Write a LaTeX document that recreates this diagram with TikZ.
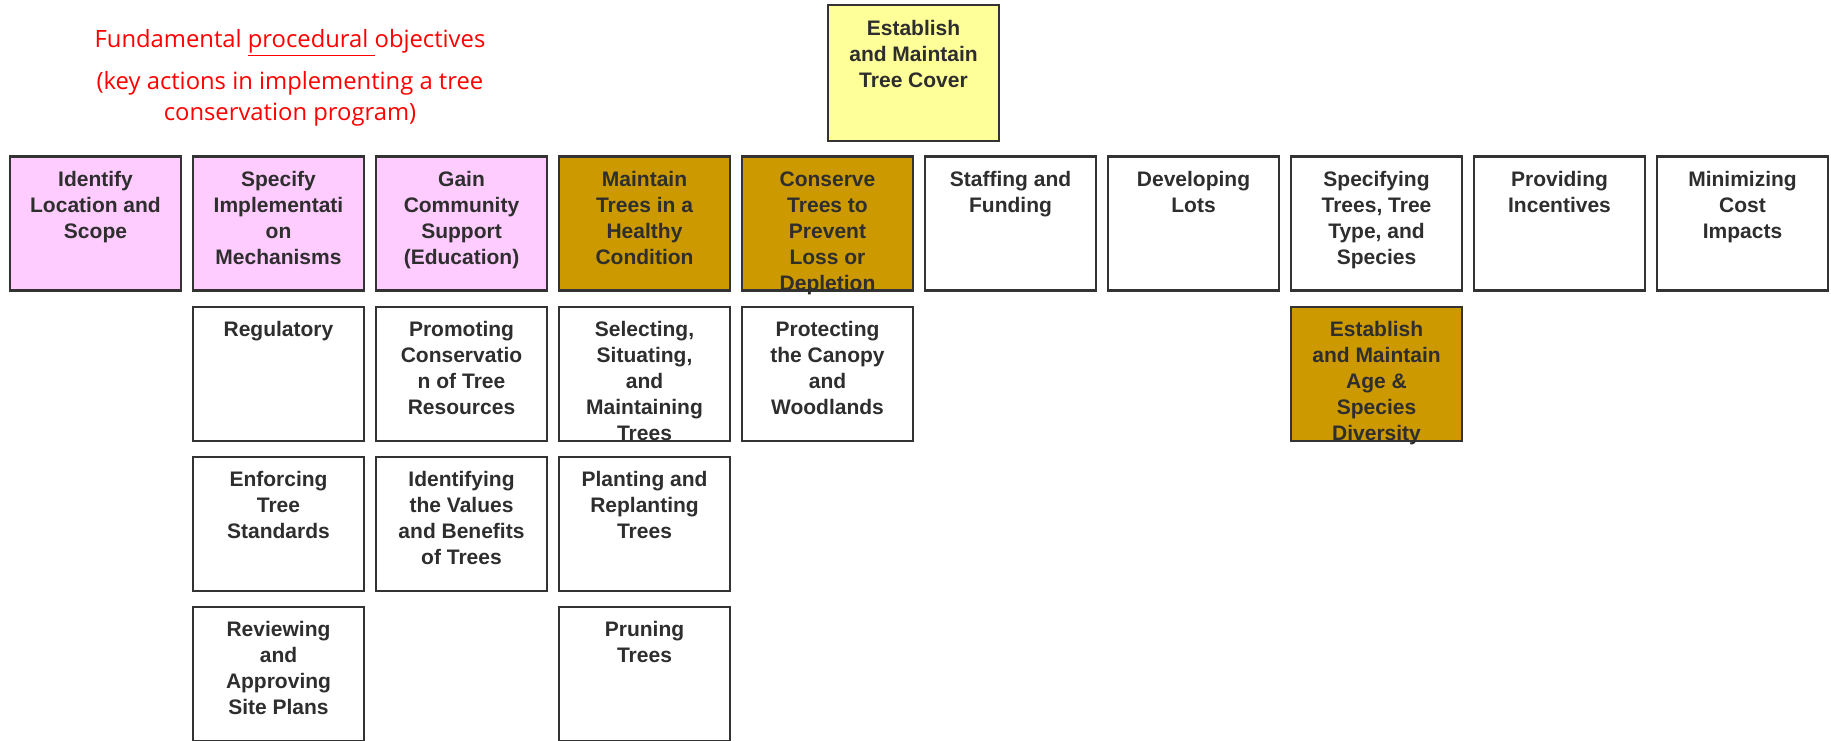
\documentclass[tikz,border=0pt]{standalone}
\usepackage{fontspec}
\setmainfont{Liberation Sans}
\newfontfamily\titlefont{Open Sans}
\definecolor{bordc}{HTML}{333333}
\definecolor{txtc}{HTML}{2E2E2E}
\definecolor{pinkc}{HTML}{FFCCFF}
\definecolor{goldc}{HTML}{CC9900}
\definecolor{yelc}{HTML}{FFFF99}
\definecolor{redc}{HTML}{FF0000}
\newcommand\bx[2][67pt]{\parbox[c][#1][t]{85.3pt}{\centering\rule{0pt}{14.9pt}#2}}
\tikzset{
  box/.style={draw=bordc, line width=1.2pt, inner sep=0pt, fill=white,
    text=txtc, font=\fontsize{10.5pt}{13pt}\selectfont\bfseries},
  pinkbox/.style={box, fill=pinkc},
  goldbox/.style={box, fill=goldc},
  yelbox/.style={box, fill=yelc},
  ttl/.style={anchor=base, inner sep=0pt, text=redc, font=\titlefont\fontsize{11.9pt}{13pt}\selectfont},
}
\begin{document}
\begin{tikzpicture}[x=0.5pt, y=-0.5pt]
\useasboundingbox (0,0) rectangle (1831,740);
% title
\node[ttl] (t1) at (290,47.3) {Fundamental $\underline{\hbox{procedural\ }}$objectives};
\node[ttl] (t2) at (290,89.3) {(key actions in implementing a tree};
\node[ttl] (t3) at (290,120) {conservation program)};
% top
\node[yelbox] (top) at (913.5,73) {\bx[67.8pt]{Establish\\and Maintain\\Tree Cover}};
% row 1
\node[pinkbox] (a0) at (95.5,223.4) {\bx{Identify\\Location and\\Scope}};
\node[pinkbox] (a1) at (278.5,223.4) {\bx{Specify\\Implementati\\on\\Mechanisms}};
\node[pinkbox] (a2) at (461.5,223.4) {\bx{Gain\\Community\\Support\\(Education)}};
\node[goldbox] (a3) at (644.5,223.4) {\bx{Maintain\\Trees in a\\Healthy\\Condition}};
\node[goldbox] (a4) at (827.5,223.4) {\bx{Conserve\\Trees to\\Prevent\\Loss or\\Depletion}};
\node[box] (a5) at (1010.5,223.4) {\bx{Staffing and\\Funding}};
\node[box] (a6) at (1193.5,223.4) {\bx{Developing\\Lots}};
\node[box] (a7) at (1376.5,223.4) {\bx{Specifying\\Trees, Tree\\Type, and\\Species}};
\node[box] (a8) at (1559.5,223.4) {\bx{Providing\\Incentives}};
\node[box] (a9) at (1742.5,223.4) {\bx{Minimizing\\Cost\\Impacts}};
% row 2
\node[box] (b1) at (278.5,373.7) {\bx{Regulatory}};
\node[box] (b2) at (461.5,373.7) {\bx{Promoting\\Conservatio\\n of Tree\\Resources}};
\node[box] (b3) at (644.5,373.7) {\bx{Selecting,\\Situating,\\and\\Maintaining\\Trees}};
\node[box] (b4) at (827.5,373.7) {\bx{Protecting\\the Canopy\\and\\Woodlands}};
\node[goldbox] (b7) at (1376.5,373.7) {\bx{Establish\\and Maintain\\Age \&\\Species\\Diversity}};
% row 3
\node[box] (c1) at (278.5,523.7) {\bx{Enforcing\\Tree\\Standards}};
\node[box] (c2) at (461.5,523.7) {\bx{Identifying\\the Values\\and Benefits\\of Trees}};
\node[box] (c3) at (644.5,523.7) {\bx{Planting and\\Replanting\\Trees}};
% row 4
\node[box] (d1) at (278.5,673.7) {\bx{Reviewing\\and\\Approving\\Site Plans}};
\node[box] (d3) at (644.5,673.7) {\bx{Pruning\\Trees}};
\end{tikzpicture}
\end{document}
